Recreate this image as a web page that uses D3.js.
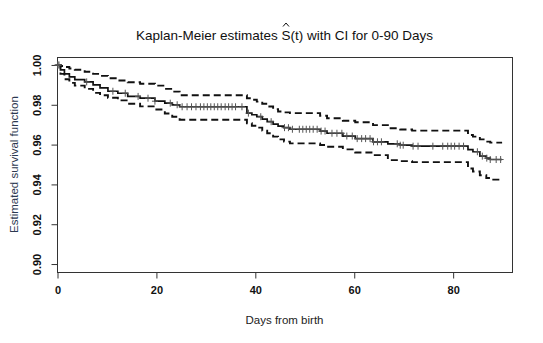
<!DOCTYPE html>
<html>
<head>
<meta charset="utf-8">
<script src="https://cdn.jsdelivr.net/npm/d3@7"></script>
<style>
  html, body { margin: 0; padding: 0; background: #fff; }
  svg { display: block; font-family: "Liberation Sans", Arial, sans-serif; }
</style>
</head>
<body>
<svg id="chart" width="543" height="343"></svg>
<script>
// Kaplan-Meier step estimate with pointwise confidence band (days 0-90)
const eventDays = [0, 0.7, 1.5, 2.5, 3.6, 5.6, 7.3, 8.7, 10.3, 12.3, 14.3, 16.8, 19.8, 21.8, 23.3, 24.8,
  38.4, 39.4, 40.4, 41.5, 42.5, 43.7, 44.7, 45.9, 47.1, 53.2, 54.6, 57.8, 60.3, 63.9, 66.9, 69.4, 71.8,
  83.1, 84.1, 85.5, 86.8, 87.6];
const survival = [1, 0.9975, 0.9955, 0.9940, 0.9926, 0.9915, 0.9900, 0.9885, 0.9868, 0.9858, 0.9842, 0.9833, 0.9818, 0.9808, 0.9800, 0.9790,
  0.9758, 0.9750, 0.9740, 0.9728, 0.9715, 0.9703, 0.9693, 0.9685, 0.9677, 0.9668, 0.9657, 0.9643, 0.9630, 0.9614, 0.9604, 0.9597, 0.9592,
  0.9575, 0.9564, 0.9542, 0.9532, 0.9525];
const upperCI = [1, 0.9995, 0.9990, 0.9982, 0.9976, 0.9966, 0.9955, 0.9945, 0.9933, 0.9922, 0.9913, 0.9906, 0.9896, 0.9880, 0.9866, 0.9848,
  0.9833, 0.9825, 0.9816, 0.9805, 0.9791, 0.9778, 0.9766, 0.9762, 0.9758, 0.9745, 0.9732, 0.9720, 0.9712, 0.9698, 0.9682, 0.9676, 0.9670,
  0.9648, 0.9640, 0.9626, 0.9615, 0.9610];
const lowerCI = [1, 0.9955, 0.9928, 0.9910, 0.9896, 0.9880, 0.9860, 0.9848, 0.9835, 0.9822, 0.9805, 0.9792, 0.9776, 0.9756, 0.9740, 0.9725,
  0.9707, 0.9695, 0.9685, 0.9670, 0.9657, 0.9640, 0.9626, 0.9615, 0.9606, 0.9598, 0.9589, 0.9576, 0.9560, 0.9547, 0.9522, 0.9517, 0.9512,
  0.9480, 0.9465, 0.9446, 0.9432, 0.9424];
const censorDays = [0.1, 0.2, 0.4, 6, 11.3, 13.8, 16.4, 18.4, 19.8, 22.9, 24.3, 25.3, 26.3, 27.2, 28.1, 29, 29.7, 30.4, 31.1, 31.8, 32.5,
  33.2, 34, 34.7, 35.4, 36.1, 37.4, 38.7, 41.2, 43.3, 46, 46.8, 47.6, 49, 49.7, 50.4, 51.1, 51.8, 52.6, 53.4, 54.2, 55.6, 56.6,
  57.6, 58.6, 59.7, 60.7, 61.6, 62.4, 63.3, 64, 64.8, 65.6, 68.8, 69.4, 70, 72, 73, 76, 78, 79, 79.7, 80.4, 81.3, 82.2, 85, 86,
  86.9, 87.6, 88.8, 89.7];
const followUpEnd = 90;
const xTicks = [0, 20, 40, 60, 80];
const yTicks = [0.90, 0.92, 0.94, 0.96, 0.98, 1.00];

const svg = d3.select("#chart");
const box = { left: 57, right: 512, top: 57, bottom: 272 };

const x = d3.scaleLinear().domain([0, 92]).range([box.left, box.right]);
const y = d3.scaleLinear().domain([0.896, 1.004]).range([box.bottom, box.top]);

// plot frame
svg.append("rect")
  .attr("x", box.left + 0.5).attr("y", box.top + 0.5)
  .attr("width", box.right - box.left).attr("height", box.bottom - box.top)
  .attr("fill", "none").attr("stroke", "#333").attr("stroke-width", 1);

// axes
const xAxis = svg.append("g")
  .attr("transform", `translate(0.5,${box.bottom + 0.5})`)
  .call(d3.axisBottom(x).tickValues(xTicks).tickSize(6).tickPadding(8).tickFormat(d3.format("d")));
const yAxis = svg.append("g")
  .attr("transform", `translate(${box.left + 0.5},0.5)`)
  .call(d3.axisLeft(y).tickValues(yTicks).tickSize(6).tickPadding(4).tickFormat(d3.format(".2f")));

xAxis.select(".domain").attr("d", `M${x(0)},0H${x(80)}`).attr("stroke", "#333");
yAxis.select(".domain").attr("d", `M0,${y(0.90)}V${y(1.00)}`).attr("stroke", "#333");
[xAxis, yAxis].forEach(g => g.selectAll(".tick line").attr("stroke", "#333"));
xAxis.selectAll(".tick text")
  .attr("font-size", 11).attr("font-weight", "bold").attr("fill", "#111")
  .attr("font-family", "Liberation Sans, Arial, sans-serif");
yAxis.selectAll(".tick text")
  .attr("font-size", 11).attr("font-weight", "bold").attr("fill", "#111")
  .attr("font-family", "Liberation Sans, Arial, sans-serif")
  .attr("text-anchor", "middle").attr("dy", null)
  .attr("transform", d => `translate(-17,${y(d)}) rotate(-90)`)
  .attr("x", 0).attr("y", 0)
  .each(function () { d3.select(this.parentNode).attr("transform", `translate(0,0)`); });
yAxis.selectAll(".tick line").attr("transform", d => `translate(0,${y(d)})`);

// step curves
const stepPoints = vals => eventDays.map((t, i) => [t, vals[i]]).concat([[followUpEnd, vals[vals.length - 1]]]);
const line = d3.line().x(d => x(d[0])).y(d => y(d[1])).curve(d3.curveStepAfter);

const plot = svg.append("g");
[upperCI, lowerCI].forEach(vals => {
  plot.append("path").attr("d", line(stepPoints(vals)))
    .attr("fill", "none").attr("stroke", "#111").attr("stroke-width", 1.9)
    .attr("stroke-dasharray", "7,4");
});
plot.append("path").attr("d", line(stepPoints(survival)))
  .attr("fill", "none").attr("stroke", "#111").attr("stroke-width", 1.7);

// censoring marks
const survAt = t => survival[d3.bisectRight(eventDays, t) - 1];
plot.selectAll("path.censor").data(censorDays).join("path")
  .attr("class", "censor")
  .attr("d", t => {
    const cx = x(t), cy = y(survAt(t));
    return `M${cx - 3},${cy}H${cx + 3}M${cx},${cy - 3.5}V${cy + 3.5}`;
  })
  .attr("stroke", "#555").attr("stroke-width", 1).attr("fill", "none");

// title with hat over S
const title = svg.append("text")
  .attr("x", (box.left + box.right) / 2).attr("y", 40)
  .attr("text-anchor", "middle").attr("font-size", 13.5).attr("fill", "#111")
  .text("Kaplan-Meier estimates S(t) with CI for 0-90 Days");
const sIndex = "Kaplan-Meier estimates ".length;
const sBox = title.node().getExtentOfChar(sIndex);
const hx = sBox.x + sBox.width / 2;
svg.append("path")
  .attr("d", `M${hx - 3},${26.5}L${hx},${23}L${hx + 3},${26.5}`)
  .attr("fill", "none").attr("stroke", "#111").attr("stroke-width", 1);

// axis titles
svg.append("text")
  .attr("x", (box.left + box.right) / 2).attr("y", 324)
  .attr("text-anchor", "middle").attr("font-size", 11.5).attr("fill", "#222")
  .text("Days from birth");
svg.append("text")
  .attr("transform", `translate(14,${(box.top + box.bottom) / 2}) rotate(-90)`)
  .attr("text-anchor", "middle").attr("dy", "0.35em").attr("font-size", 11.5).attr("fill", "#2c3850")
  .text("Estimated survival function");
</script>
</body>
</html>
